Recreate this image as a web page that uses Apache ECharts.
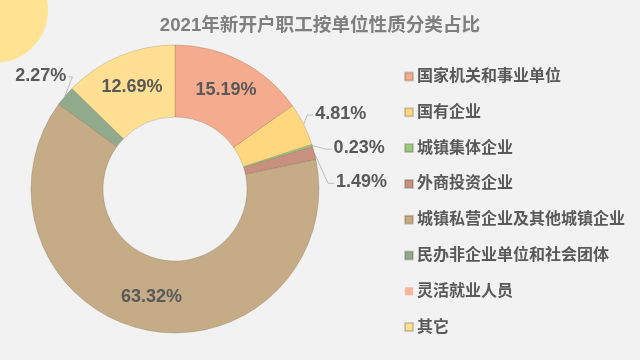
<!DOCTYPE html>
<html>
<head>
<meta charset="utf-8">
<script src="https://cdn.jsdelivr.net/npm/echarts@6/dist/echarts.min.js"></script>
<style>
html,body{margin:0;padding:0;background:#F2F2F2;}
#chart{width:640px;height:360px;}
</style>
</head>
<body>
<div id="chart"></div>
<script>
const categories = ['国家机关和事业单位','国有企业','城镇集体企业','外商投资企业','城镇私营企业及其他城镇企业','民办非企业单位和社会团体','灵活就业人员','其它'];
const values = [15.19, 4.81, 0.23, 1.49, 63.32, 2.27, 0, 12.69];
const colors = ['#F5AC8E','#FFD77E','#9ACB7C','#C8907F','#C5AB86','#91AA8C','#F8B59A','#FFE092'];
const insideIdx = [0, 4, 7];
const labelShift = {1: {dx: -11, dy: -4}, 2: {dx: -2, dy: 7}, 3: {dx: -2, dy: 33}, 5: {dx: 22, dy: -11}};

const chart = echarts.init(document.getElementById('chart'), null, {renderer: 'canvas'});
const data = categories.map((name, i) => {
  const item = {name: name, value: values[i], itemStyle: {color: colors[i]}};
  if (insideIdx.indexOf(i) >= 0) {
    item.label = {position: 'inside'};
    item.labelLine = {show: false};
  }
  if (values[i] === 0) {
    item.label = {show: false};
    item.labelLine = {show: false};
    item.itemStyle.borderWidth = 0;
  }
  return item;
});

chart.setOption({
  backgroundColor: '#F2F2F2',
  animation: false,
  title: {
    text: '2021年新开户职工按单位性质分类占比',
    left: 'center',
    top: 12,
    textStyle: {fontSize: 18.6, fontWeight: 'bold', color: '#7F7F7F', fontFamily: 'Liberation Sans, "Noto Sans CJK SC", sans-serif'}
  },
  graphic: [{
    type: 'circle', z: -1,
    shape: {cx: -5, cy: 10, r: 53},
    style: {fill: '#FFE393'}
  }],
  legend: {
    orient: 'vertical',
    left: 404,
    top: 68.5,
    padding: 0,
    itemWidth: 8,
    itemHeight: 8,
    itemGap: 19.8,
    icon: 'rect',
    data: categories,
    textStyle: {fontSize: 16, lineHeight: 16, fontWeight: 'bold', color: '#595959', padding: [0,0,0,-1], fontFamily: 'Liberation Sans, "Noto Sans CJK SC", sans-serif'}
  },
  series: [{
    type: 'pie',
    center: [175, 189],
    radius: [72, 144],
    startAngle: 90,
    clockwise: true,
    avoidLabelOverlap: false,
    itemStyle: {borderColor: 'rgba(90,70,50,0.25)', borderWidth: 0.8},
    label: {
      show: true,
      position: 'outside',
      formatter: '{c}%',
      fontSize: 18,
      fontWeight: 'bold',
      color: '#595959',
      fontFamily: 'Liberation Sans, Arial, sans-serif'
    },
    labelLine: {show: true, length: 14, length2: 5, lineStyle: {color: '#BFBFBF', width: 1}},
    labelLayout: function (params) {
      const s = labelShift[params.dataIndex];
      if (!s) return {};
      const r = params.labelRect;
      const a = params.labelLinePoints ? params.labelLinePoints[0] : null;
      if (!a) return {dx: s.dx, dy: s.dy};
      const right = a[0] < r.x + r.width / 2;
      const endY = r.y + s.dy + r.height * 0.55;
      const endX = right ? r.x + s.dx - 2 : r.x + s.dx + r.width + 2;
      const midX = right ? endX - 6 : endX + 4;
      return {dx: s.dx, dy: s.dy, labelLinePoints: [a, [midX, endY], [endX, endY]]};
    },
    emphasis: {disabled: true},
    data: data
  }]
});
</script>
</body>
</html>
